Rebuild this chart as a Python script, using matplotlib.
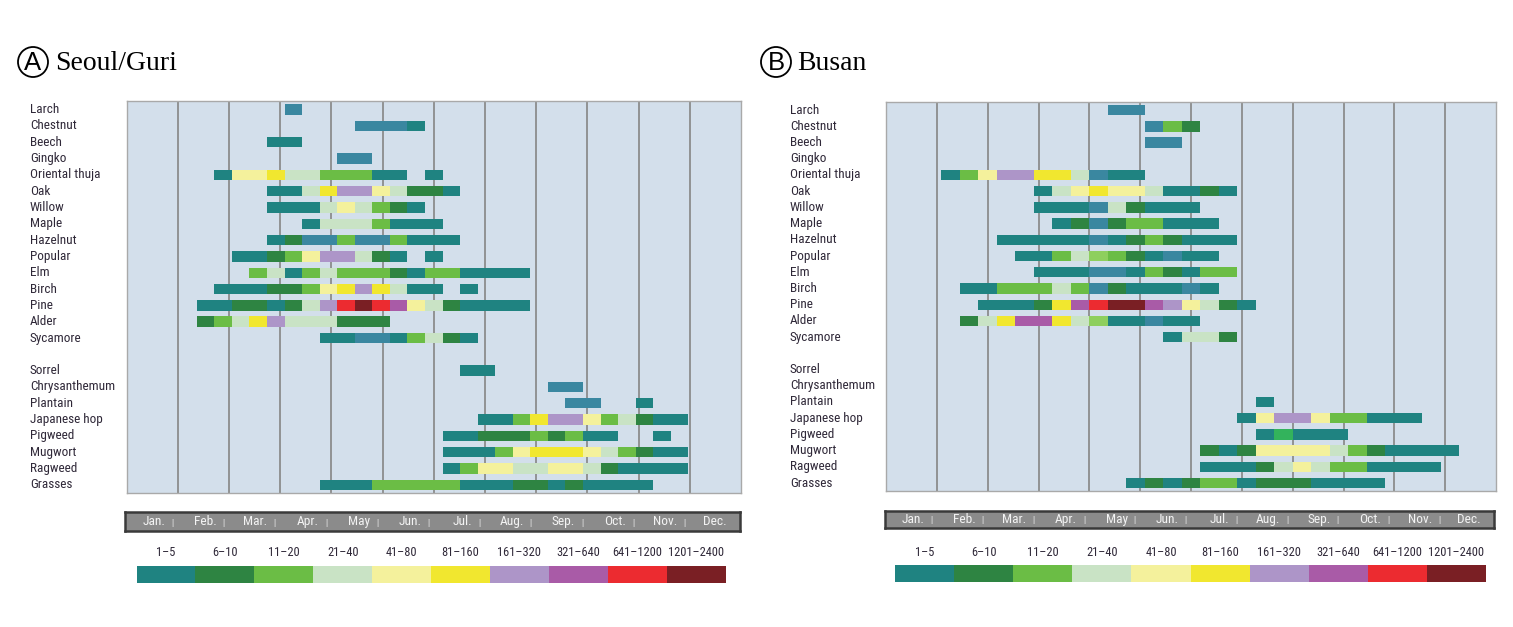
import os
import matplotlib
matplotlib.use("Agg")
import matplotlib.pyplot as plt
import matplotlib.font_manager as fm
from matplotlib.patches import Circle
from matplotlib.transforms import blended_transform_factory

# ---------------- data ----------------
TAXA_TREES = ["Larch", "Chestnut", "Beech", "Gingko", "Oriental thuja", "Oak", "Willow",
              "Maple", "Hazelnut", "Popular", "Elm", "Birch", "Pine", "Alder", "Sycamore"]
TAXA_WEEDS = ["Sorrel", "Chrysanthemum", "Plantain", "Japanese hop", "Pigweed",
              "Mugwort", "Ragweed", "Grasses"]
TAXA = TAXA_TREES + TAXA_WEEDS

MONTHS = ["Jan.", "Feb.", "Mar.", "Apr.", "May", "Jun.", "Jul.", "Aug.", "Sep.",
          "Oct.", "Nov.", "Dec."]

LEVEL_LABELS = ["1–5", "6–10", "11–20", "21–40", "41–80", "81–160", "161–320",
                "321–640", "641–1200", "1201–2400"]
LEVEL_CODES = ["a", "b", "c", "d", "e", "f", "g", "h", "i", "j"]

# codes: a..j = legend levels, s = steel blue, k = light green, m = emerald, '.' = none
SEOUL_PERIODS = 35
SEOUL_START = [9, 13, 8, 12, 5, 8, 8, 10, 8, 6, 7, 5, 4, 4, 11,
               19, 24, 25, 20, 18, 18, 18, 11]
SEOUL_CODES = ["s", "sssa", "aa", "ss", "aeefddcccaa.a", "aadfggedbba", "aaadedcba",
               "adddcaaa", "absscsscaaa", "aabceggdba.a", "cdacdcccbaccaaaa",
               "aaabbcefgfdaa.a", "aabbabdgijihedbaaaa", "bcdfgdddbbb", "aassacdba",
               "aa", "ss", "ss..a", "aacfggecdbaa", "aabbbcbcaa..a", "aaacefffedcbaa",
               "aceeddeedbaaaa", "aaacccccaaabbabaaaa"]

BUSAN_PERIODS = 33
BUSAN_START = [12, 14, 14, 0, 3, 8, 8, 9, 6, 7, 8, 4, 5, 4, 15,
               0, 0, 20, 19, 20, 17, 17, 13]
BUSAN_CODES = ["ss", "scb", "ss", "", "aceggffdsaa", "adefeedaaba", "aaasdbaaa",
               "absbccaaa", "aaaaasabcbaaa", "aacdkcbasaa", "aaassacbacc",
               "aacccdcsbaaasa", "aaabfhijjhgedba", "bdfhhfdkaasaa", "addb",
               "", "", "a", "aeggeccaaa", "amaaa", "babeeeedcbaaaa", "aaabdedccaaaa",
               "ababccabbbaaaa"]

# ---------------- styles ----------------
COLORS = {"a": "#1f8381", "b": "#2e8442", "c": "#6bbd45", "d": "#c9e3c5",
          "e": "#f4f19c", "f": "#f1e72f", "g": "#ad95c8", "h": "#a95ba7",
          "i": "#ec2b30", "j": "#7a1f24", "s": "#3a87a0", "k": "#8ecf5e",
          "m": "#33b35c"}
BG = "#d3dfeb"
GRID = "#8c8c8c"
TXT = "#2f2838"

W, H = 1513, 627


def pick_condensed():
    prefs = ["liberationsansnarrow-regular.ttf", "robotocondensed-regular.ttf",
             "dejavusanscondensed.ttf", "notosans-condensed.ttf",
             "notosans-condensedregular.ttf", "opensans-condensedregular.ttf"]
    found = {}
    for f in fm.fontManager.ttflist:
        found[os.path.basename(f.fname).lower()] = f.fname
    for p in prefs:
        if p in found:
            return fm.FontProperties(fname=found[p])
    bad = ["bold", "italic", "oblique", "light", "thin", "black", "medium", "semi", "extra"]
    for b, path in sorted(found.items()):
        if ("condensed" in b or "narrow" in b) and not any(x in b for x in bad):
            return fm.FontProperties(fname=path)
    return fm.FontProperties(family=["Liberation Sans", "DejaVu Sans"])


COND = pick_condensed()


def fp(size):
    p = COND.copy()
    p.set_size(size)
    return p


fig = plt.figure(figsize=(W / 100, H / 100), dpi=100)
fig.patch.set_facecolor("white")

ov = fig.add_axes([0, 0, 1, 1])
ov.set_xlim(0, W)
ov.set_ylim(H, 0)
ov.axis("off")
ov.patch.set_alpha(0)


def px_axes(x0, y0, x1, y1):
    return fig.add_axes([x0 / W, 1 - y1 / H, (x1 - x0) / W, (y1 - y0) / H])


def slots():
    ys = list(range(len(TAXA_TREES)))
    ys += [len(TAXA_TREES) + 1 + i for i in range(len(TAXA_WEEDS))]
    return ys


def draw_panel(letter, title, nper, starts, codes, plot_box, label_x, month_box,
               legend_box, circle_xy, title_x):
    ax = px_axes(*plot_box)
    ax.set_facecolor(BG)
    ax.set_xlim(0, nper)
    ax.set_ylim(23.47, -0.53)
    ax.set_xticks([])
    ax.set_yticks([])
    for sp in ax.spines.values():
        sp.set_color("#a9a9a9")
        sp.set_linewidth(1.0)
    for m in range(1, 12):
        ax.axvline(m * nper / 12.0, color=GRID, lw=1.3, zorder=1)
    ys = slots()
    for y, st, cs in zip(ys, starts, codes):
        i = 0
        while i < len(cs):
            c = cs[i]
            j = i
            while j < len(cs) and cs[j] == c:
                j += 1
            if c != ".":
                ax.barh(y, j - i, left=st + i, height=0.64, color=COLORS[c],
                        edgecolor="none", zorder=3)
            i = j
    tr = blended_transform_factory(fig.transFigure, ax.transData)
    for y, name in zip(ys, TAXA):
        ax.text(label_x / W, y, name, transform=tr, ha="left", va="center",
                color=TXT, fontproperties=fp(9.5), clip_on=False)

    # month bar
    mb = px_axes(*month_box)
    mb.set_facecolor("#8b8b8b")
    mb.set_xlim(0, 12)
    mb.set_ylim(0, 1)
    mb.set_xticks([])
    mb.set_yticks([])
    for sp in mb.spines.values():
        sp.set_color("#3a3a3a")
        sp.set_linewidth(1.8)
    for k, mname in enumerate(MONTHS):
        off = -13 if k == 11 else -11
        mb.annotate(mname, (k + 1, 0.5), xytext=(off * 0.72, 0), textcoords="offset points",
                    ha="right", va="center", color="#f4f4f4", fontproperties=fp(9.6))
        if k < 11:
            mb.annotate("|", (k + 1, 0.42), xytext=(-4 * 0.72, 0), textcoords="offset points",
                        ha="center", va="center", color="#f4f4f4", fontproperties=fp(6.5))

    # colour legend
    lg = px_axes(*legend_box)
    lg.set_xlim(0, len(LEVEL_CODES))
    lg.set_ylim(0, 1)
    lg.axis("off")
    for k, (code, lab) in enumerate(zip(LEVEL_CODES, LEVEL_LABELS)):
        lg.bar(k, 1, width=1, align="edge", color=COLORS[code], edgecolor="none")
        lg.annotate(lab, (k + 0.5, 1), xytext=(0, 13 * 0.72), textcoords="offset points",
                    ha="center", va="center", color=TXT, fontproperties=fp(8.9),
                    annotation_clip=False)

    # title
    ov.add_patch(Circle(circle_xy, 15, fill=False, lw=1.3, ec="black"))
    ov.text(circle_xy[0], circle_xy[1] + 0.5, letter, ha="center", va="center",
            fontsize=18.5, family="Liberation Sans", color="black")
    ov.text(title_x, circle_xy[1] + 1, title, ha="left", va="center",
            fontsize=20, family="Liberation Serif", color="black")


draw_panel("A", "Seoul/Guri", SEOUL_PERIODS, SEOUL_START, SEOUL_CODES,
           (126.5, 101, 741, 492.5), 30, (125, 512, 739.5, 531),
           (136.5, 566, 725.5, 582.5), (33, 62), 55)
draw_panel("B", "Busan", BUSAN_PERIODS, BUSAN_START, BUSAN_CODES,
           (886, 101.5, 1496, 490.7), 790, (885, 510.7, 1494, 528.3),
           (895, 565, 1486, 581.7), (776, 62), 797)

fig.savefig("out.png", dpi=100, facecolor="white")
